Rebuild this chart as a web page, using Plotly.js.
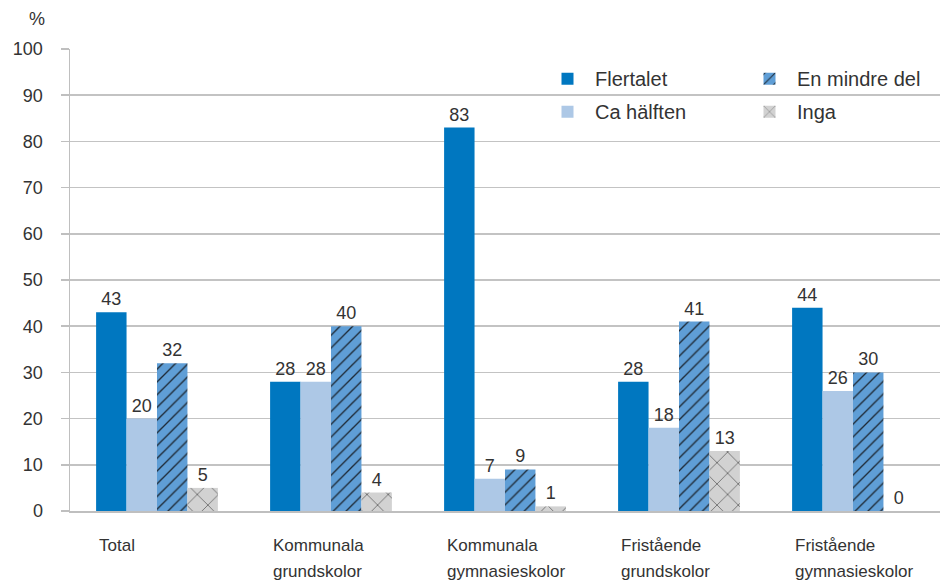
<!DOCTYPE html>
<html>
<head>
<meta charset="utf-8">
<script src="https://cdn.plot.ly/plotly-3.0.1.min.js"></script>
<style>html,body{margin:0;padding:0;background:#fff;}#chart{width:944px;height:581px;}</style>
</head>
<body>
<div id="chart"></div>
<script>
const categories = ['Total', 'Kommunala grundskolor', 'Kommunala gymnasieskolor', 'Fristående grundskolor', 'Fristående gymnasieskolor'];
const flertalet = [43, 28, 83, 28, 44];
const caHalften = [20, 28, 7, 18, 26];
const enMindreDel = [32, 40, 9, 41, 30];
const inga = [5, 4, 1, 13, 0];
const yTicks = [0, 10, 20, 30, 40, 50, 60, 70, 80, 90, 100];

const numFont = {family: 'Liberation Sans, Arial, sans-serif', size: 18, color: '#333333'};
const catFont = {family: 'Liberation Sans, Arial, sans-serif', size: 17, color: '#333333'};

function barTrace(name, values, marker, legend, rank) {
  return {
    type: 'bar', name: name, x: categories, y: values,
    marker: Object.assign({line: {width: 0}}, marker),
    text: values.map(v => String(v)), textposition: 'outside',
    textfont: numFont, cliponaxis: false,
    legend: legend, legendgroup: name, legendrank: rank,
    hoverinfo: 'name+y'
  };
}

const traces = [
  barTrace('Flertalet', flertalet, {color: '#0077C0'}, 'legend', 1),
  barTrace('Ca hälften', caHalften, {color: '#ADC8E6'}, 'legend', 2),
  barTrace('En mindre del', enMindreDel, {color: '#5F9ED6', pattern: {shape: '/', fgcolor: '#1E2A36', bgcolor: '#5F9ED6', size: 9, solidity: 0.15, fillmode: 'replace'}}, 'legend2', 3),
  barTrace('Inga', inga, {color: '#D2D2D2', pattern: {shape: 'x', fgcolor: '#2A2A2A', bgcolor: '#D2D2D2', size: 15, solidity: 0.07, fillmode: 'replace'}}, 'legend2', 4)
];

const annotations = [{
  text: '%', xref: 'paper', yref: 'paper', x: 0, y: 1, xshift: -33, yshift: 30,
  xanchor: 'center', yanchor: 'middle', showarrow: false, font: numFont
}];
categories.forEach(c => {
  const i = c.indexOf(' ');
  const lines = i < 0 ? [c] : [c.slice(0, i), c.slice(i + 1)];
  lines.forEach((ln, k) => {
    annotations.push({
      text: ln, xref: 'x', yref: 'paper', x: c, y: 0, xshift: -60, yshift: -34 - 26 * k,
      xanchor: 'left', yanchor: 'middle', showarrow: false, font: catFont
    });
  });
});

const legendCommon = {
  orientation: 'v', xref: 'paper', yref: 'paper', yanchor: 'top', y: 0.978,
  font: {family: 'Liberation Sans, Arial, sans-serif', size: 20, color: '#333333'},
  bgcolor: 'rgba(0,0,0,0)', borderwidth: 0, tracegroupgap: 4, itemwidth: 45
};

const layout = {
  width: 944, height: 581,
  margin: {l: 70, r: 4, t: 49, b: 70},
  paper_bgcolor: '#ffffff', plot_bgcolor: '#ffffff',
  barmode: 'group', bargap: 0.3, bargroupgap: 0,
  showlegend: true,
  legend: Object.assign({}, legendCommon, {x: (540 - 70) / 870}),
  legend2: Object.assign({}, legendCommon, {x: (742 - 70) / 870}),
  xaxis: {
    type: 'category', showticklabels: false, ticks: '',
    showline: true, linecolor: '#BFBFBF', linewidth: 1.5,
    showgrid: false, zeroline: false, fixedrange: true
  },
  yaxis: {
    range: [0, 100], tickvals: yTicks, ticktext: yTicks.map(String),
    tickfont: numFont, ticks: 'outside', ticklen: 8, tickcolor: '#BFBFBF', tickwidth: 1.5,
    ticklabelstandoff: 14,
    showline: true, linecolor: '#BFBFBF', linewidth: 1.5,
    showgrid: true, gridcolor: '#C3C3C3', gridwidth: 1.5, zeroline: false, fixedrange: true
  },
  annotations: annotations
};

Plotly.newPlot('chart', traces, layout, {displayModeBar: false, staticPlot: true});
</script>
</body>
</html>
